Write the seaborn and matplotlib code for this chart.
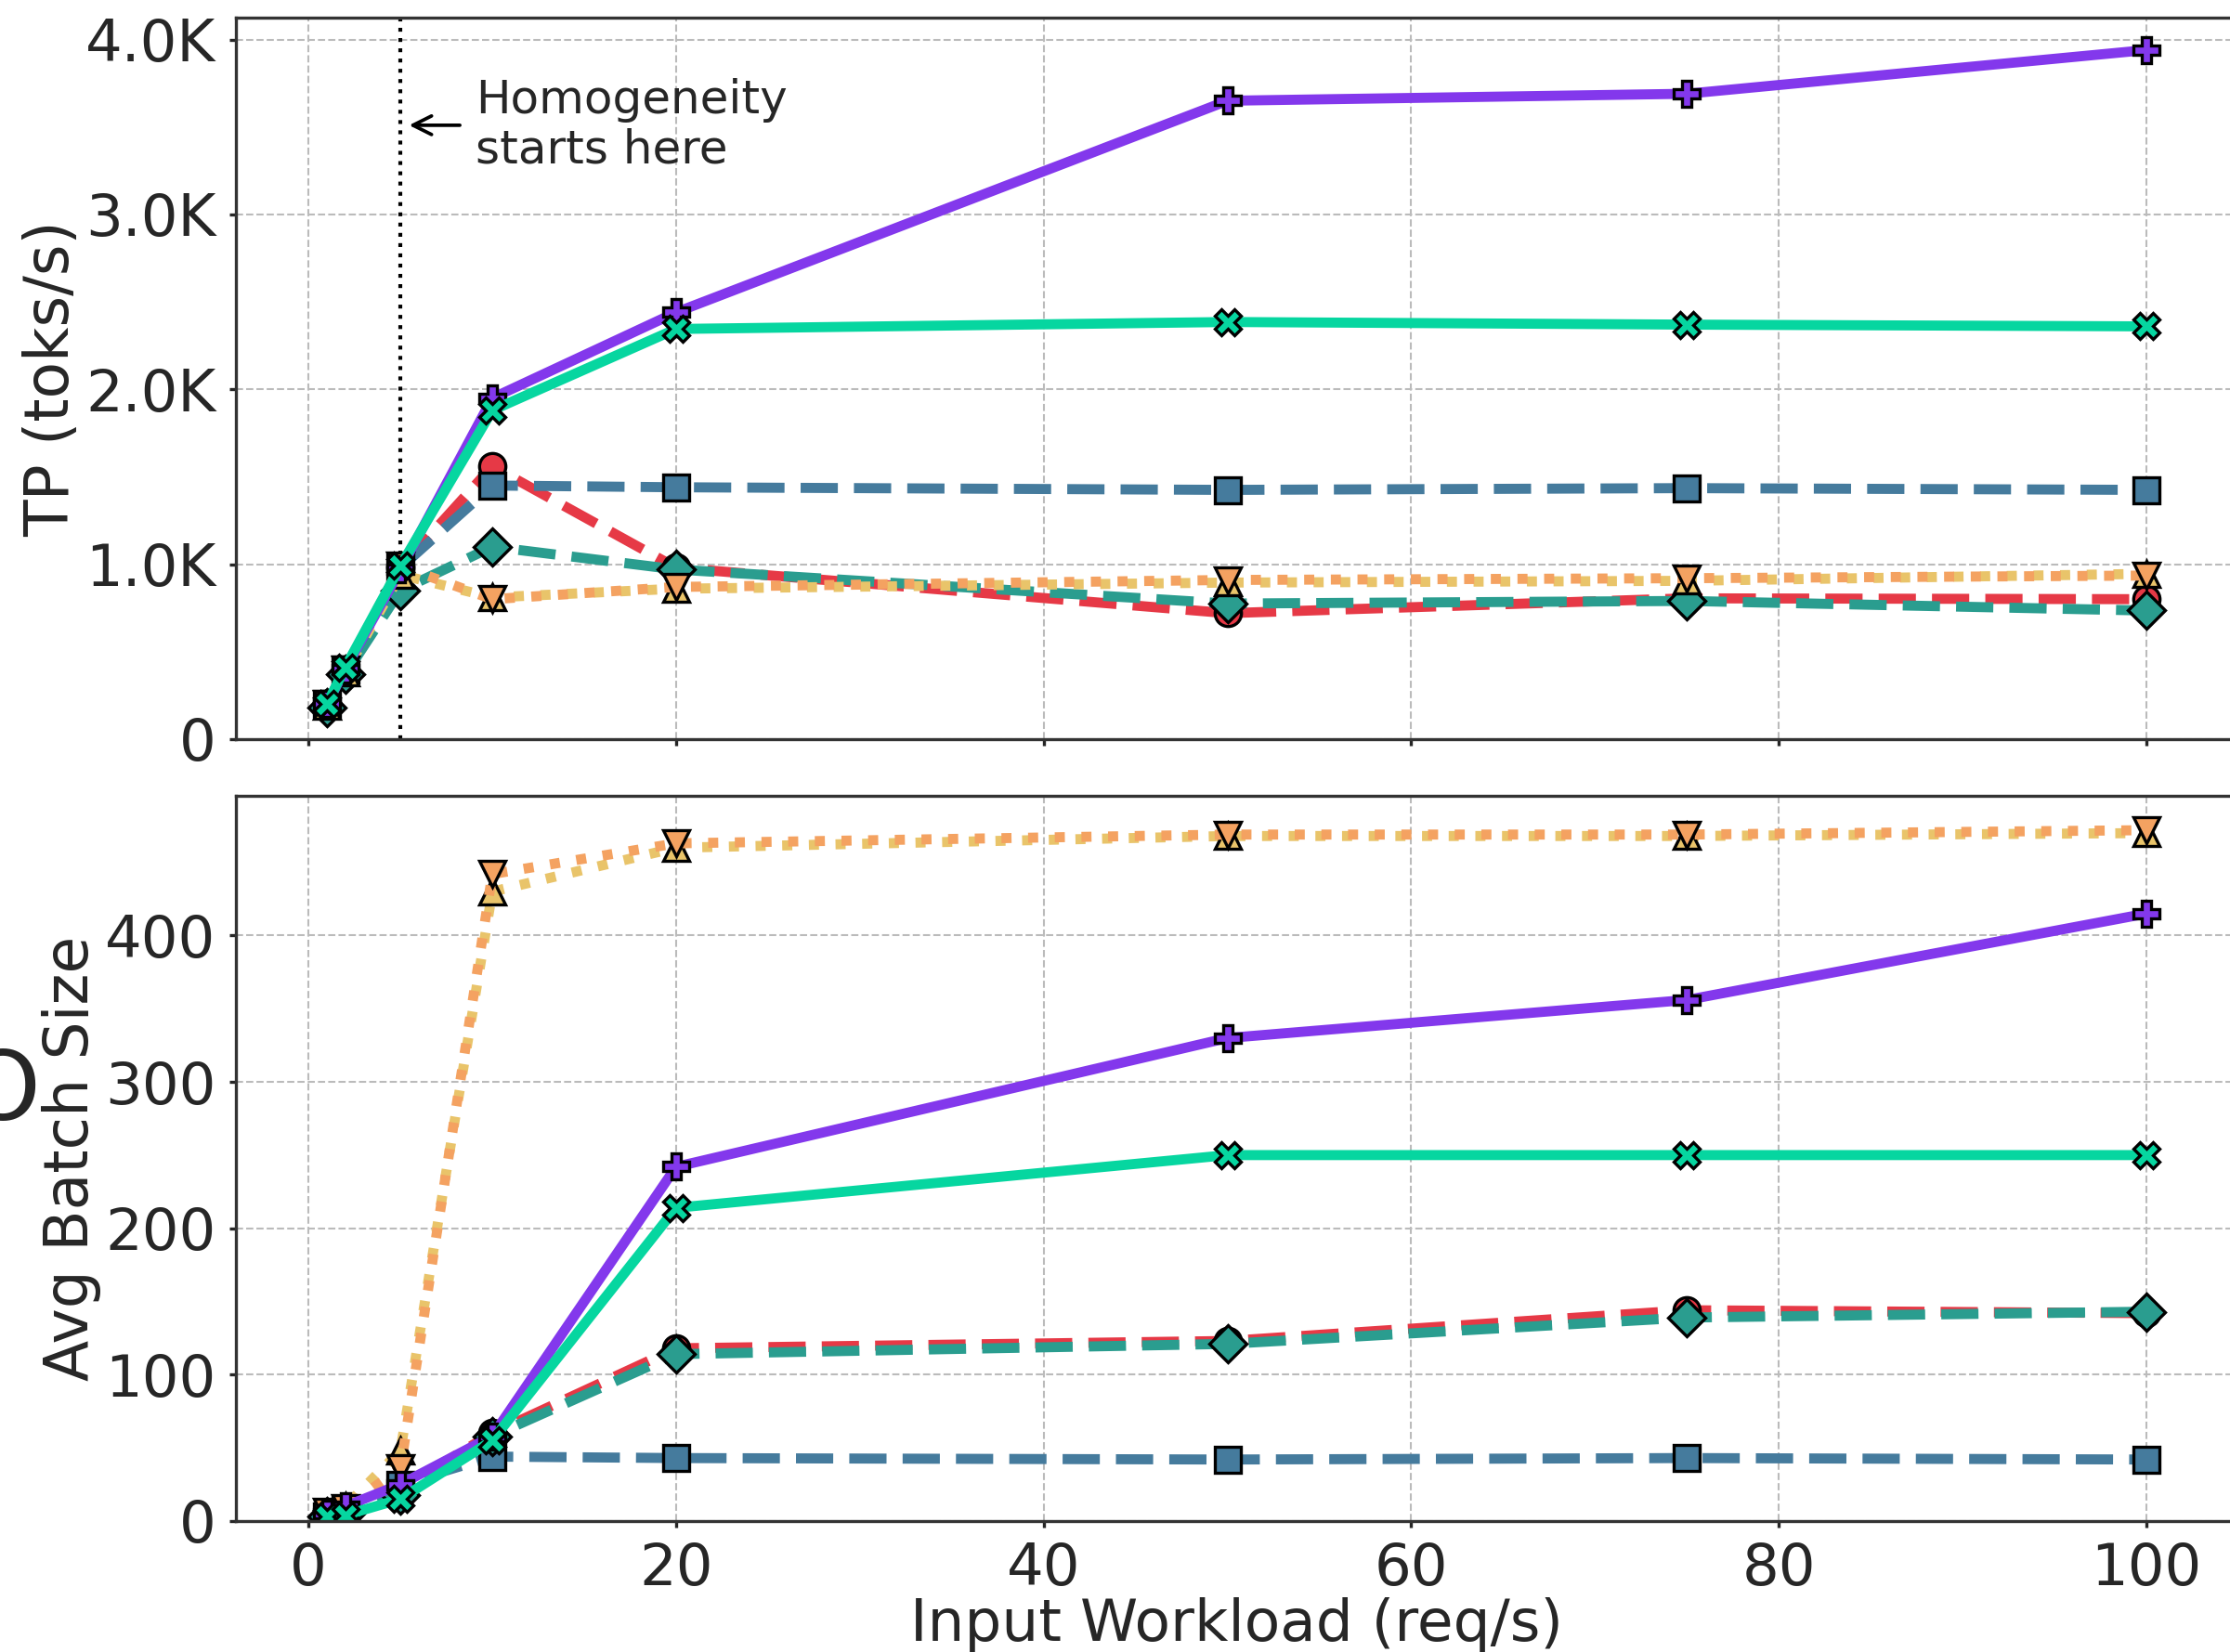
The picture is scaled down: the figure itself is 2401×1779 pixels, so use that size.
import matplotlib
matplotlib.use("Agg")
import matplotlib.pyplot as plt
from matplotlib.ticker import FuncFormatter
import seaborn as sns
import pandas as pd

x_vals = [1, 2, 5, 10, 20, 50, 75, 100]

# throughput (toks/s)
tp_red = [200, 390, 980, 1560, 980, 720, 805, 800]
tp_blue = [200, 400, 980, 1450, 1440, 1425, 1435, 1425]
tp_teal = [180, 370, 850, 1100, 970, 775, 790, 735]
tp_yellow = [190, 380, 940, 810, 860, 895, 905, 945]
tp_orange = [200, 400, 990, 800, 870, 910, 920, 935]
tp_purple = [200, 400, 970, 1950, 2440, 3650, 3690, 3940]
tp_green = [200, 410, 990, 1880, 2345, 2385, 2370, 2360]

# avg batch size
bs_red = [5, 8, 22, 60, 118, 123, 144, 142]
bs_blue = [3, 8, 25, 44, 43, 42, 43, 42]
bs_teal = [3, 5, 18, 58, 114, 121, 139, 143]
bs_yellow = [5, 10, 48, 430, 460, 468, 468, 470]
bs_orange = [6, 9, 36, 442, 463, 469, 469, 472]
bs_purple = [5, 10, 25, 58, 242, 330, 356, 415]
bs_green = [3, 4, 15, 55, 214, 250, 250, 250]

names = ["red", "blue", "teal", "yellow", "orange", "purple", "green"]
colors = ["#e63946", "#457b9d", "#2a9d8f", "#e9c46a", "#f4a261", "#8338ec", "#06d6a0"]
markers = ["o", "s", "D", "^", "v", "P", "X"]
styles = ["--", "--", "--", ":", ":", "-", "-"]

tp_series = [tp_red, tp_blue, tp_teal, tp_yellow, tp_orange, tp_purple, tp_green]
bs_series = [bs_red, bs_blue, bs_teal, bs_yellow, bs_orange, bs_purple, bs_green]

rows = []
for name, tp, bs in zip(names, tp_series, bs_series):
    for x, t, b in zip(x_vals, tp, bs):
        rows.append({"series": name, "x": x, "tp": t, "bs": b})
df = pd.DataFrame(rows)

sns.set_style("ticks")
plt.rcParams["font.family"] = ["DejaVu Sans"]
plt.rcParams["axes.linewidth"] = 0.8

fig = plt.figure(figsize=(2401 / 300, 1779 / 300), dpi=300)
ax1 = fig.add_axes([0.1058, 0.5526, 0.8975, 0.4367])
ax2 = fig.add_axes([0.1058, 0.0793, 0.8975, 0.4390], sharex=ax1)

for ax, col in [(ax1, "tp"), (ax2, "bs")]:
    for name, c, m, ls in zip(names, colors, markers, styles):
        sub = df[df["series"] == name]
        sns.lineplot(data=sub, x="x", y=col, ax=ax, color=c, linestyle=ls,
                     marker=m, markersize=6.8, markeredgecolor="black",
                     markeredgewidth=0.8, lw=2.6, legend=False)
    ax.grid(True, linestyle="--", linewidth=0.5, color="#bbbbbb")
    ax.set_axisbelow(True)
    ax.tick_params(labelsize=15, length=1.7, width=0.8)
    for s in ax.spines.values():
        s.set_color("#333333")

ax1.set_xlim(-3.95, 104.95)
ax1.set_ylim(0, 4125)
ax2.set_ylim(0, 495.5)
ax1.set_xticks([0, 20, 40, 60, 80, 100])
ax1.set_yticks([0, 1000, 2000, 3000, 4000])
ax2.set_yticks([0, 100, 200, 300, 400])
ax1.yaxis.set_major_formatter(FuncFormatter(lambda v, p: "0" if v == 0 else f"{v/1000:.1f}K"))
plt.setp(ax1.get_xticklabels(), visible=False)

ax1.set_xlabel("")
ax1.set_ylabel("TP (toks/s)", fontsize=15.5, labelpad=1)
ax2.set_ylabel("Avg Batch Size", fontsize=15.5, labelpad=1)
ax2.set_xlabel("Input Workload (req/s)", fontsize=15.1, labelpad=0)

ax1.axvline(5, color="black", linestyle=":", lw=1.0, zorder=1)
ax1.annotate("Homogeneity\nstarts here", xy=(5.05, 3510), xytext=(9.1, 3510),
             fontsize=12, ha="left", va="center", linespacing=1.15,
             arrowprops=dict(arrowstyle="->", lw=0.9, color="black"))

fig.text(0.001, 0.338, "O", fontsize=25, ha="center", va="center")

fig.savefig("out.png", dpi=300)
